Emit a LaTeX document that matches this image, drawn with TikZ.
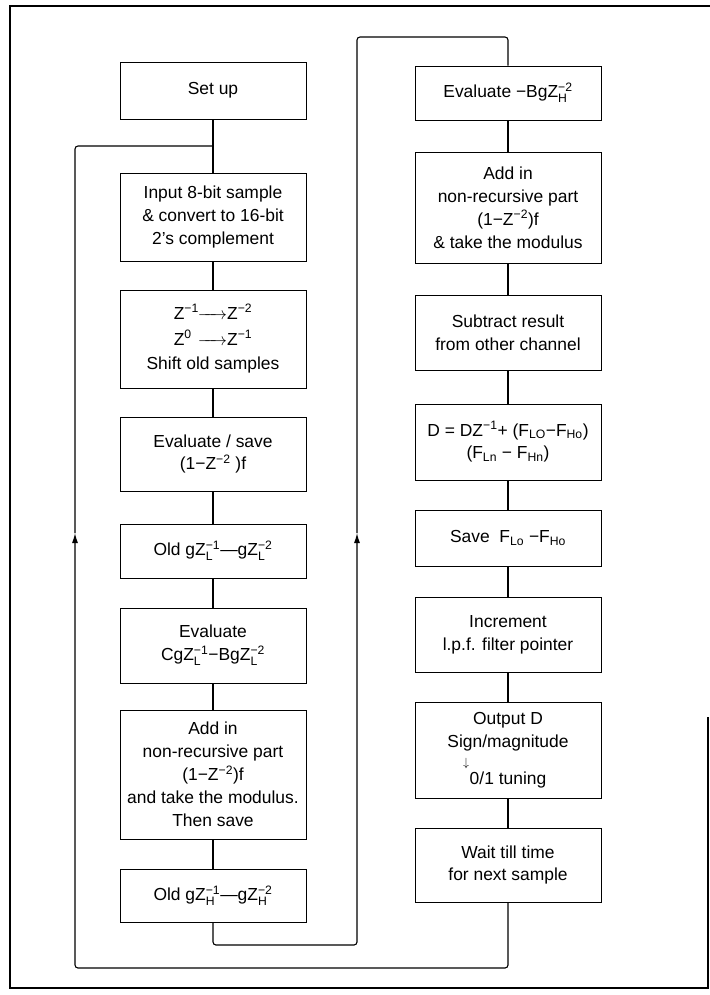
\documentclass[tikz,border=0pt]{standalone}
\usepackage{amsmath}
\usepackage{fontspec}
\setmainfont{Liberation Sans}
\usetikzlibrary{arrows.meta}
\newcommand{\zsup}[1]{$^{\text{#1}}$}
\newcommand{\zsub}[1]{$_{\text{#1}}$}
\newcommand{\zss}[2]{${}^{\text{#1}}_{\text{#2}}$}
\newcommand{\zarr}{$\xrightarrow{\hspace{20bp}}$}
\begin{document}
\begin{tikzpicture}[x=1bp,y=-1bp,
  blk/.style={fill=white,rectangle,draw=black,line width=0.9bp,minimum width=186bp,align=center,inner sep=1bp,font=\fontsize{17.5}{23}\selectfont},
  conn/.style={line width=1.1bp,rounded corners=3bp},
  tip/.style={-{Latex[length=10bp,width=6bp]}}]
\useasboundingbox (0,0) rectangle (710,995);
\def\xl{213};
\def\xr{508};
% left column
\node[blk,minimum height=57bp] (A) at (\xl,90.5) {Set up};
\node[blk,minimum height=88bp] (B) at (\xl,217) {Input 8-bit sample\\ \& convert to 16-bit\\ 2's complement};
\node[blk,minimum height=98bp] (C) at (\xl,339) {\makebox[24bp][l]{Z\zsup{−1}}\zarr Z\zsup{−2}\\[3bp] \makebox[24bp][l]{Z\zsup{0}}\zarr Z\zsup{−1}\\[2bp] Shift old samples};
\node[blk,minimum height=74bp] (D) at (\xl,454) {Evaluate / save\\ (1−Z\zsup{−2} )f};
\node[blk,minimum height=54bp] (E) at (\xl,551) {Old gZ\zss{−1}{L}—gZ\zss{−2}{L}};
\node[blk,minimum height=75bp] (F) at (\xl,645.5) {Evaluate\\ CgZ\zss{−1}{L}−BgZ\zss{−2}{L}};
\node[blk,minimum height=129bp] (G) at (\xl,774.5) {Add in\\ non-recursive part\\ (1−Z\zsup{−2})f\\ and take the modulus.\\ Then save};
\node[blk,minimum height=53bp] (H) at (\xl,895.5) {Old gZ\zss{−1}{H}—gZ\zss{−2}{H}};
% right column
\node[blk,minimum height=54bp] (RA) at (\xr,93) {Evaluate −BgZ\zss{−2}{H}};
\node[blk,minimum height=111bp] (RB) at (\xr,207.5) {Add in\\ non-recursive part\\ (1−Z\zsup{−2})f\\ \& take the modulus};
\node[blk,minimum height=75bp] (RC) at (\xr,332.5) {Subtract result\\ from other channel};
\node[blk,minimum height=76bp] (RD) at (\xr,442) {D = DZ\zsup{−1}+ (F\zsub{LO}−F\zsub{Ho})\\ (F\zsub{Ln} − F\zsub{Hn})};
\node[blk,minimum height=56bp] (RE) at (\xr,538) {Save\ \ F\zsub{Lo} −F\zsub{Ho}};
\node[blk,minimum height=75bp] (RF) at (\xr,634.5) {Increment\\ l.p.f. filter pointer};
\node[blk,minimum height=96bp] (RG) at (\xr,750) {Output D\\ Sign/magnitude\\[14bp] 0/1 tuning};
\node[font=\fontsize{13}{13}\selectfont,inner sep=0pt] (RGa) at (466,764) {$\downarrow$};
\node[blk,minimum height=74bp] (RH) at (\xr,865) {Wait till time\\ for next sample};

\coordinate (UA) at (\xl,146);
\coordinate (UB) at (75,146);
\coordinate (UC) at (75,533);
\coordinate (UD) at (75,968);
\coordinate (VA) at (357,945);
\coordinate (VB) at (357,533);
\coordinate (VC) at (357,37);

\draw[conn] (A) -- (B);
\draw[conn] (B) -- (C);
\draw[conn] (C) -- (D);
\draw[conn] (D) -- (E);
\draw[conn] (E) -- (F);
\draw[conn] (F) -- (G);
\draw[conn] (G) -- (H);
\draw[conn] (RA) -- (RB);
\draw[conn] (RB) -- (RC);
\draw[conn] (RC) -- (RD);
\draw[conn] (RD) -- (RE);
\draw[conn] (RE) -- (RF);
\draw[conn] (RF) -- (RG);
\draw[conn] (RG) -- (RH);
% loop back to the next sample
\draw[conn,tip] (RH.south) |- (UD) -- (UC);
\draw[conn] (UC) -- (UB) -- (UA);
% left column into right column
\draw[conn,tip] (H.south) |- (VA) -- (VB);
\draw[conn] (VB) -- (VC) -| (RA.north);

\draw[line width=1.2bp] (708,717) -- (708,988) -- (10,988) -- (10,6) -- (710,6);
\end{tikzpicture}
\end{document}
